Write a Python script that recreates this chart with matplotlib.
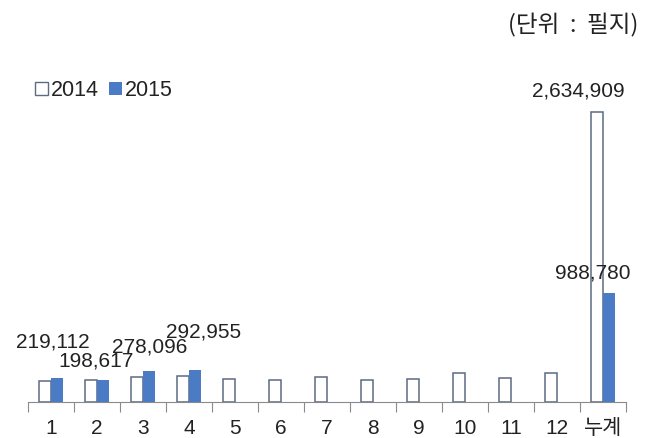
import matplotlib.pyplot as plt
import numpy as np
from matplotlib.patches import Patch

months = ["1", "2", "3", "4", "5", "6", "7", "8", "9", "10", "11", "12", "누계"]
v2014 = [189000, 197000, 224000, 240000, 212000, 197000, 224000, 200000, 209000, 259000, 221000, 259000, 2634909]
v2015 = [219112, 198617, 278096, 292955, None, None, None, None, None, None, None, None, 988780]
labels2015 = ["219,112", "198,617", "278,096", "292,955"]
label_total_2014 = "2,634,909"
label_total_2015 = "988,780"

fonts = ['Liberation Sans', 'Noto Sans CJK KR']
plt.rcParams['font.family'] = fonts

fig = plt.figure(figsize=(6.48, 4.38), dpi=100)
ax = fig.add_axes([28 / 648, 36 / 438, 598 / 648, 322 / 438])

x = np.arange(len(months))
w = 0.27
edge = '#5b6b82'
blue = '#4a7bc4'

ax.bar(x - w / 2, v2014, width=w, facecolor='white', edgecolor=edge, linewidth=1.1)
y15 = [v if v is not None else 0 for v in v2015]
ax.bar(x + w / 2, y15, width=w, color=blue, edgecolor='none')

ax.set_xlim(-0.5, len(months) - 0.5)
ax.set_ylim(0, 2925000)

for s in ['top', 'right', 'left']:
    ax.spines[s].set_visible(False)
ax.spines['bottom'].set_color('#8a8a8a')
ax.set_yticks([])

ax.set_xticks(np.arange(len(months) + 1) - 0.5)
ax.set_xticklabels([])
ax.tick_params(axis='x', which='major', length=7, color='#8a8a8a', direction='out')
ax.set_xticks(x, minor=True)
ax.set_xticklabels(months, minor=True, fontsize=15, color='#222222')
ax.tick_params(axis='x', which='minor', length=0, pad=12)

# value labels for 2015 bars (offsets in points)
offsets = [(-3, 19), (-5, 7), (0, 11), (6, 20)]
for i, lab in enumerate(labels2015):
    ax.annotate(lab, (x[i] + w / 2, v2015[i]), xytext=offsets[i], textcoords='offset points',
                ha='center', va='bottom', fontsize=15, color='#222222')

ax.annotate(label_total_2014, (x[-1] - w / 2, v2014[-1]), xytext=(-13, 8), textcoords='offset points',
            ha='center', va='bottom', fontsize=15, color='#222222')
ax.annotate(label_total_2015, (x[-1] + w / 2, v2015[-1]), xytext=(-12, 8), textcoords='offset points',
            ha='center', va='bottom', fontsize=15, color='#222222')

fig.text(638 / 648, 1 - 25 / 438, "(단위  :  필지)", ha='right', va='center', fontsize=17,
         color='#222222', family=['Noto Sans CJK KR', 'DejaVu Sans'])

handles = [Patch(facecolor='white', edgecolor=edge, linewidth=1.0, label='2014'),
           Patch(facecolor=blue, edgecolor='none', label='2015')]
fig.legend(handles=handles, loc='upper left', bbox_to_anchor=(35 / 648, 1 - 80 / 438), ncol=2,
           frameon=False, fontsize=15.5, handlelength=0.6, handleheight=0.6, handletextpad=0.15,
           columnspacing=0.45, borderpad=0, borderaxespad=0, labelcolor='#222222')

fig.savefig("out.png", dpi=100)
